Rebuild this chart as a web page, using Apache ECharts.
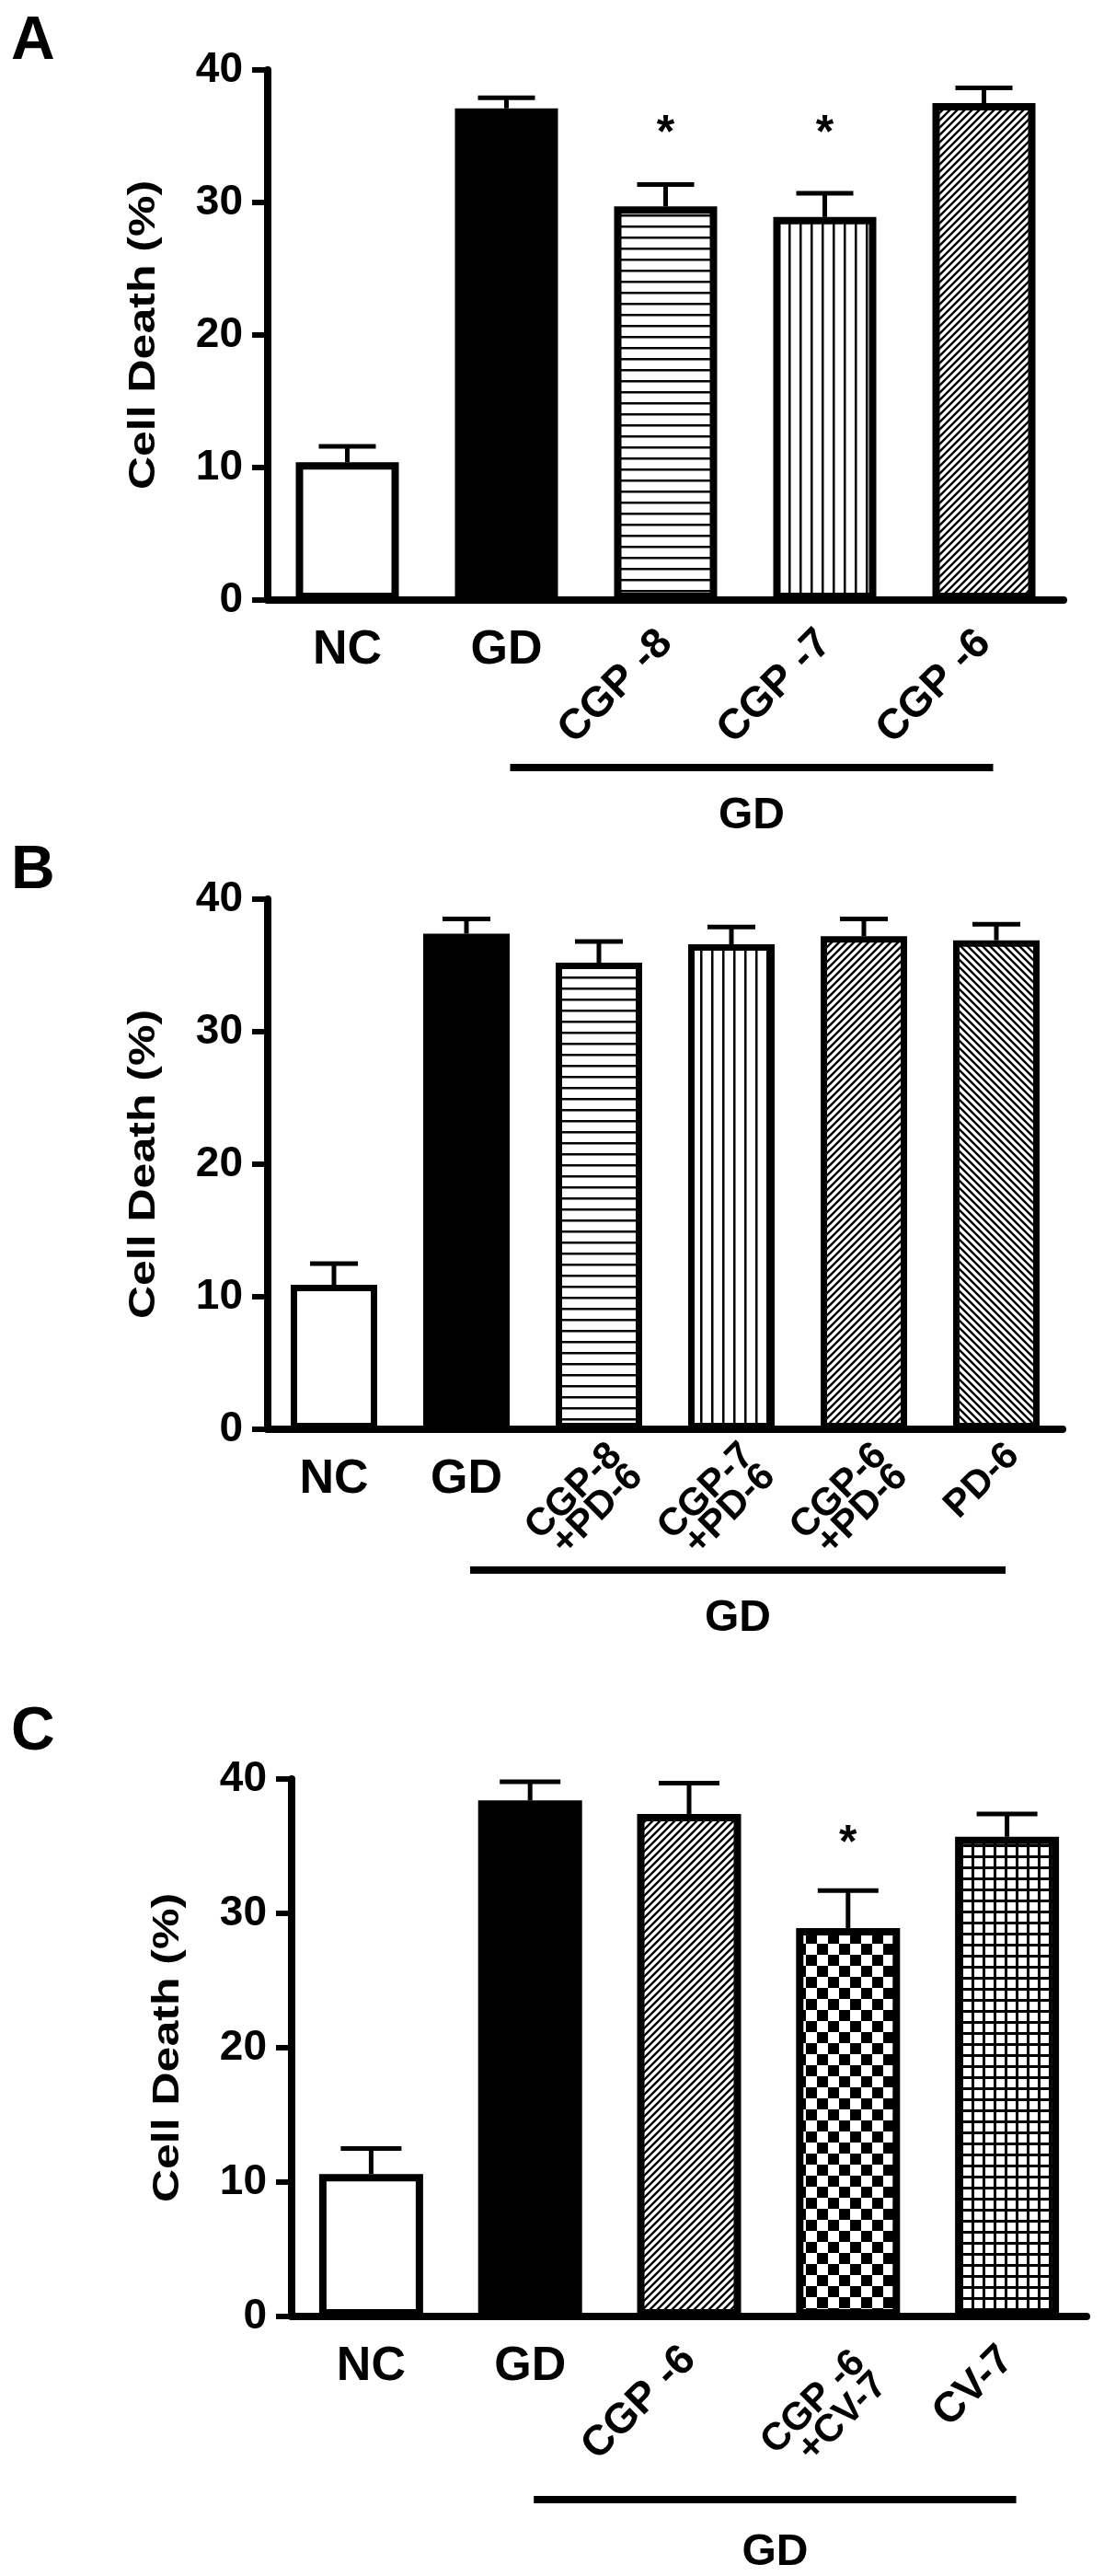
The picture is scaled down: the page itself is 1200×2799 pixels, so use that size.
<!DOCTYPE html>
<html><head><meta charset="utf-8">
<script src="https://cdn.jsdelivr.net/npm/echarts@6/dist/echarts.min.js"></script>
<style>html,body{margin:0;padding:0;background:#fff}#c{width:1200px;height:2799px}</style>
</head><body><div id="c"></div>
<script>
// ---------- DATA ----------
const yTicks = [0, 10, 20, 30, 40];
const yName = 'Cell Death (%)';
const groupLabel = 'GD';
const sigLevel = 35.8;

const catsA = ['NC', 'GD', 'CGP -8', 'CGP -7', 'CGP -6'];
const valsA = [10.4, 37.1, 29.7, 28.9, 37.5];
const errA  = [1.2, 0.8, 1.65, 1.8, 1.15];
const sigA  = ['', '', '*', '*', ''];
const patA  = ['white', 'black', 'hlines', 'vlines', 'diagR'];

const catsB = ['NC', 'GD', 'CGP-8\n+PD-6', 'CGP-7\n+PD-6', 'CGP-6\n+PD-6', 'PD-6'];
const valsB = [10.9, 37.4, 35.2, 36.6, 37.2, 36.9];
const errB  = [1.6, 1.1, 1.6, 1.3, 1.3, 1.2];
const sigB  = ['', '', '', '', '', ''];
const patB  = ['white', 'black', 'hlines', 'vlines', 'diagR', 'diagL'];

const catsC = ['NC', 'GD', 'CGP -6', 'CGP -6\n+CV-7', 'CV-7'];
const valsC = [10.6, 38.4, 37.4, 28.9, 35.7];
const errC  = [1.9, 1.4, 2.3, 2.8, 1.7];
const sigC  = ['', '', '', '*', ''];
const patC  = ['white', 'black', 'diagR', 'checker', 'grid'];

// ---------- STYLE / LAYOUT ----------
const FONT = '"Liberation Sans", Arial, sans-serif';
const panels = [
  {letter:'A', cats:catsA, vals:valsA, errs:errA, sig:sigA, pats:patA,
   grid:{left:291, top:76, width:865, height:576}, barW:112, border:8, cap:62,
   lineY:834, textY:887, letterTop:13,
   rotSingle:{margin:40}, rotMulti:{margin:40}},
  {letter:'B', cats:catsB, vals:valsB, errs:errB, sig:sigB, pats:patB,
   grid:{left:291, top:977, width:864, height:576}, barW:94, border:7, cap:52,
   lineY:1706, textY:1759, letterTop:914,
   rotSingle:{margin:4, fontSize:42, verticalAlign:'top', padding:[10,0,0,0], lineHeight:32},
   rotMulti:{margin:4, fontSize:42, verticalAlign:'top', padding:[10,0,0,0], lineHeight:32}},
  {letter:'C', cats:catsC, vals:valsC, errs:errC, sig:sigC, pats:patC,
   grid:{left:317, top:1933, width:864, height:584}, barW:113, border:8, cap:66,
   lineY:2716, textY:2774, letterTop:1850,
   rotSingle:{margin:40}, rotMulti:{margin:32, fontSize:42, verticalAlign:'top', lineHeight:34}}
];

function makePattern(kind) {
  if (kind === 'white') return '#ffffff';
  if (kind === 'black') return '#000000';
  const c = document.createElement('canvas');
  let s = 12;
  if (kind === 'diagR' || kind === 'diagL') s = 8;
  if (kind === 'checker') s = 24;
  c.width = s; c.height = s;
  const ctx = c.getContext('2d');
  ctx.fillStyle = '#fff'; ctx.fillRect(0, 0, s, s);
  ctx.fillStyle = '#000'; ctx.strokeStyle = '#000';
  if (kind === 'hlines') ctx.fillRect(0, 5, s, 2.5);
  else if (kind === 'vlines') ctx.fillRect(5, 0, 2.5, s);
  else if (kind === 'checker') { ctx.fillRect(0, 0, 12, 12); ctx.fillRect(12, 12, 12, 12); }
  else if (kind === 'grid') { ctx.fillRect(0, 0, s, 3); ctx.fillRect(0, 0, 3, s); }
  else {
    ctx.lineWidth = 2.4;
    ctx.beginPath();
    if (kind === 'diagR') {
      ctx.moveTo(0, s); ctx.lineTo(s, 0);
      ctx.moveTo(-2, 2); ctx.lineTo(2, -2);
      ctx.moveTo(s - 2, s + 2); ctx.lineTo(s + 2, s - 2);
    } else {
      ctx.moveTo(0, 0); ctx.lineTo(s, s);
      ctx.moveTo(-2, s - 2); ctx.lineTo(2, s + 2);
      ctx.moveTo(s - 2, -2); ctx.lineTo(s + 2, 2);
    }
    ctx.stroke();
  }
  return {image: c, repeat: 'repeat'};
}

const grids = [], xAxes = [], yAxes = [], series = [];
panels.forEach((p, i) => {
  grids.push(Object.assign({containLabel: false}, p.grid));
  const labelFont = {fontFamily: FONT, fontWeight: 'bold', fontSize: 46, color: '#000'};
  const isMulti = (v) => v.indexOf('\n') >= 0;
  xAxes.push({
    type: 'category', gridIndex: i, data: p.cats, position: 'bottom',
    axisLine: {show: true, lineStyle: {color: '#000', width: 8}},
    axisTick: {show: false},
    axisLabel: Object.assign({interval: 0, margin: 29, rotate: 0,
      formatter: (v, idx) => idx < 2 ? v : ''}, labelFont, {fontSize: 52})
  });
  xAxes.push({
    type: 'category', gridIndex: i, data: p.cats, position: 'bottom',
    axisLine: {show: false}, axisTick: {show: false},
    axisLabel: Object.assign({interval: 0, rotate: 45, align: 'right',
      formatter: (v, idx) => (idx >= 2 && !isMulti(v)) ? v : ''}, labelFont, p.rotSingle)
  });
  xAxes.push({
    type: 'category', gridIndex: i, data: p.cats, position: 'bottom',
    axisLine: {show: false}, axisTick: {show: false},
    axisLabel: Object.assign({interval: 0, rotate: 45, align: 'right',
      formatter: (v, idx) => (idx >= 2 && isMulti(v)) ? v : ''}, labelFont, p.rotMulti)
  });
  yAxes.push({
    type: 'value', gridIndex: i, min: yTicks[0], max: yTicks[yTicks.length - 1], interval: 10,
    axisLine: {show: true, lineStyle: {color: '#000', width: 8}},
    axisTick: {show: true, length: 17, lineStyle: {color: '#000', width: 6}},
    axisLabel: Object.assign({margin: 27}, labelFont),
    splitLine: {show: false}
  });
  series.push({
    type: 'bar', xAxisIndex: 3 * i, yAxisIndex: i, barWidth: p.barW,
    data: p.vals.map((v, j) => ({value: v, itemStyle: {color: makePattern(p.pats[j])}})),
    itemStyle: {borderColor: '#000', borderWidth: p.border},
    z: 2, animation: false
  });
  series.push({
    type: 'custom', xAxisIndex: 3 * i, yAxisIndex: i, z: 5, animation: false,
    encode: {x: 0, y: 1},
    data: p.vals.map((v, j) => [j, v, p.errs[j]]),
    renderItem: (params, api) => {
      const j = api.value(0), v = api.value(1), e = api.value(2);
      const p0 = api.coord([j, v]);
      const p1 = api.coord([j, v + e]);
      const hw = p.cap / 2;
      const children = [
        {type: 'line', shape: {x1: p0[0], y1: p0[1], x2: p1[0], y2: p1[1]}, style: {stroke: '#000', lineWidth: 5}},
        {type: 'line', shape: {x1: p1[0] - hw, y1: p1[1], x2: p1[0] + hw, y2: p1[1]}, style: {stroke: '#000', lineWidth: 5}}
      ];
      const s = p.sig[params.dataIndex];
      if (s) {
        const ps = api.coord([j, sigLevel]);
        children.push({type: 'text', x: ps[0], y: ps[1] + 10,
          style: {text: s, font: 'bold 50px ' + FONT, fill: '#000', align: 'center', verticalAlign: 'middle'}});
      }
      return {type: 'group', children};
    }
  });
});

const chart = echarts.init(document.getElementById('c'), null, {renderer: 'canvas', width: 1200, height: 2799});
chart.setOption({
  animation: false, backgroundColor: '#fff',
  grid: grids, xAxis: xAxes, yAxis: yAxes, series: series
});

const graphics = [];
panels.forEach((p, i) => {
  const xStart = chart.convertToPixel({xAxisIndex: 3 * i}, 1) + 4;
  const xEnd = chart.convertToPixel({xAxisIndex: 3 * i}, p.cats.length - 1) + 10;
  graphics.push({type: 'text', left: 12, top: p.letterTop,
    style: {text: p.letter, font: 'bold 66px ' + FONT, fill: '#000'}});
  graphics.push({type: 'text', x: p.grid.left - 134, y: p.grid.top + p.grid.height / 2,
    rotation: Math.PI / 2, scaleX: 1, scaleY: 0.82,
    style: {text: yName, font: 'bold 50px ' + FONT, fill: '#000', align: 'center', verticalAlign: 'middle'}});
  graphics.push({type: 'line', shape: {x1: xStart, y1: p.lineY, x2: xEnd, y2: p.lineY},
    style: {stroke: '#000', lineWidth: 8}});
  graphics.push({type: 'text', x: (xStart + xEnd) / 2, y: p.textY,
    style: {text: groupLabel, font: 'bold 48px ' + FONT, fill: '#000', align: 'center', verticalAlign: 'middle'}});
});
chart.setOption({graphic: graphics});
</script>
</body></html>
